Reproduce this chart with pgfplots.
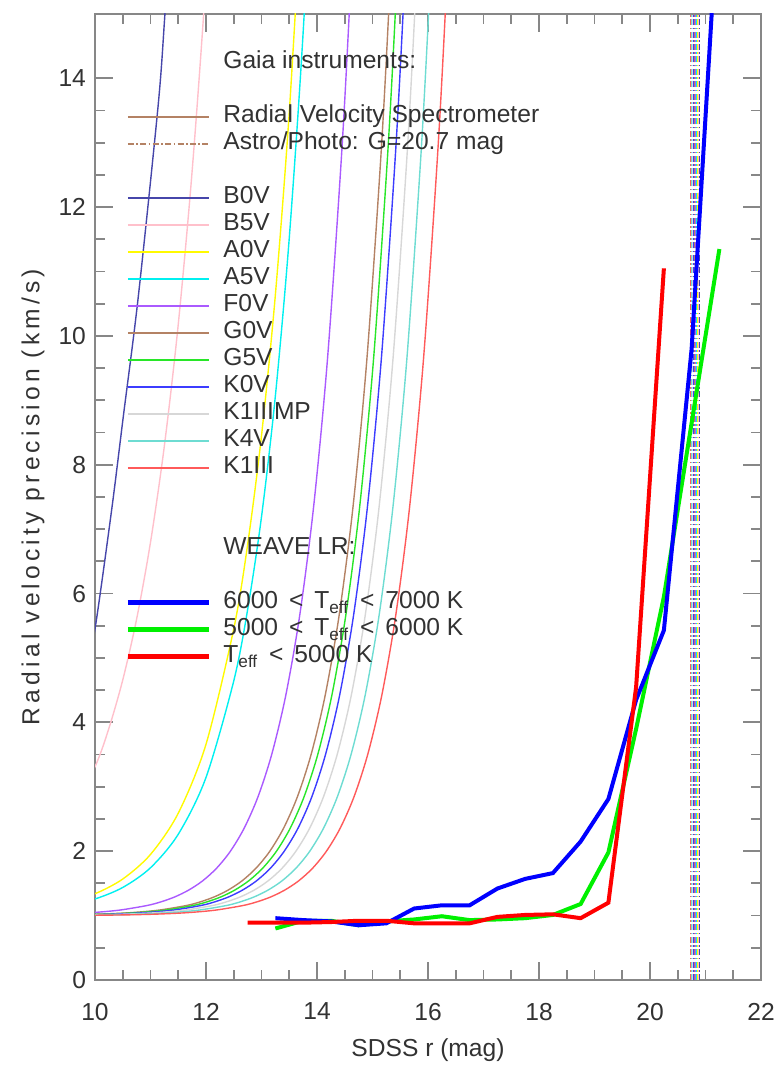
\documentclass[border=0pt]{standalone}
\usepackage{pgfplots}
\pgfplotsset{compat=1.18}
\usepackage{fontspec}
\setmainfont{Liberation Sans}
\newfontfamily\ylabfont[LetterSpace=17]{Liberation Sans}
\definecolor{cB0V}{RGB}{70,70,170}
\definecolor{cB5V}{RGB}{255,192,203}
\definecolor{cA0V}{RGB}{255,250,0}
\definecolor{cA5V}{RGB}{0,240,240}
\definecolor{cF0V}{RGB}{170,90,255}
\definecolor{cG0V}{RGB}{180,130,100}
\definecolor{cG5V}{RGB}{40,230,40}
\definecolor{cK0V}{RGB}{60,60,255}
\definecolor{cK1IIIMP}{RGB}{215,215,215}
\definecolor{cK4V}{RGB}{110,220,210}
\definecolor{cK1III}{RGB}{255,90,90}
\definecolor{wblue}{RGB}{0,0,255}
\definecolor{wgreen}{RGB}{0,240,0}
\definecolor{wred}{RGB}{255,0,0}
\definecolor{axgray}{RGB}{135,135,135}
\definecolor{txtgray}{RGB}{50,50,50}
\newcommand{\lfont}{\fontsize{12.3}{14}\selectfont}
\pgfplotsset{gaia/.style={line width=0.7pt, smooth, forget plot},
  weave/.style={line width=2pt, forget plot},
  ap/.style={line width=0.8pt, dash pattern=on 3pt off 1.2pt on 0.8pt off 1.2pt, forget plot}}
\begin{document}
\begin{tikzpicture}
\begin{axis}[
  at={(0,0)}, anchor=south west,
  scale only axis, width=333pt, height=483pt,
  xmin=10, xmax=22, ymin=0, ymax=15,
  xtick={10,12,...,22}, ytick={0,2,...,14},
  minor x tick num=3, minor y tick num=3,
  tick align=inside,
  major tick length=9pt, minor tick length=5pt,
  axis line style={draw=axgray, line width=0.9pt},
  every tick/.style={draw=axgray, line width=0.9pt},
  /pgf/number format/assume math mode=true,
  tick label style={font=\lfont, text=txtgray},
  xticklabel style={yshift=-8pt},
  yticklabel style={xshift=-1pt},
  xlabel={SDSS r (mag)},
  ylabel={Radial velocity precision (km/s)},
  xlabel style={font=\lfont, text=txtgray, at={(axis description cs:0.5,-0.0725)}, anchor=center},
  ylabel style={font=\ylabfont\lfont, text=txtgray, at={(axis description cs:-0.093,0.5)}, anchor=center},
  legend cell align=left,
  legend image code/.code={\draw[#1] (0pt,0pt) -- (40.5pt,0pt);},
  legend style={at={(axis description cs:0,1)}, anchor=north west,
    xshift=15pt, yshift=-18.25pt, draw=none, fill=none, inner sep=0pt,
    row sep=1.5pt, font=\lfont, text=txtgray,
    nodes={inner sep=0pt, text height=9pt, text depth=3pt},
    /tikz/every odd column/.append style={column sep=6pt}},
]
% ---- legend entries ----
\addlegendimage{empty legend}\addlegendentry{Gaia instruments:}
\addlegendimage{empty legend}\addlegendentry{}
\addlegendimage{cG0V, line width=0.9pt}\addlegendentry{Radial Velocity Spectrometer}
\addlegendimage{cG0V, line width=0.9pt, dash pattern=on 3pt off 1.2pt on 0.8pt off 1.2pt}\addlegendentry{Astro/Photo: G=20.7 mag}
\addlegendimage{empty legend}\addlegendentry{}
\addlegendimage{cB0V, line width=0.9pt}\addlegendentry{B0V}
\addlegendimage{cB5V, line width=0.9pt}\addlegendentry{B5V}
\addlegendimage{cA0V, line width=0.9pt}\addlegendentry{A0V}
\addlegendimage{cA5V, line width=0.9pt}\addlegendentry{A5V}
\addlegendimage{cF0V, line width=0.9pt}\addlegendentry{F0V}
\addlegendimage{cG0V, line width=0.9pt}\addlegendentry{G0V}
\addlegendimage{cG5V, line width=0.9pt}\addlegendentry{G5V}
\addlegendimage{cK0V, line width=0.9pt}\addlegendentry{K0V}
\addlegendimage{cK1IIIMP, line width=0.9pt}\addlegendentry{K1IIIMP}
\addlegendimage{cK4V, line width=0.9pt}\addlegendentry{K4V}
\addlegendimage{cK1III, line width=0.9pt}\addlegendentry{K1III}
\addlegendimage{empty legend}\addlegendentry{}
\addlegendimage{empty legend}\addlegendentry{}
\addlegendimage{empty legend}\addlegendentry{WEAVE LR:}
\addlegendimage{empty legend}\addlegendentry{}
\addlegendimage{wblue, line width=2.5pt}\addlegendentry{6000 \,<\, T\textsubscript{eff} \,<\, 7000 K}
\addlegendimage{wgreen, line width=2.5pt}\addlegendentry{5000 \,<\, T\textsubscript{eff} \,<\, 6000 K}
\addlegendimage{wred, line width=2.5pt}\addlegendentry{T\textsubscript{eff} \,<\, 5000 K}
% ---- Gaia RVS curves ----
\addplot[cB0V, gaia] coordinates {(9.8,4.6) (10,5.45) (10.30,7.3) (10.51,8.75) (10.78,10.61) (11.14,13.6) (11.26,15.0) (11.4,16.8)};
\addplot[cB5V, gaia] coordinates {(9.5,2.458) (10,3.31) (10.25,3.907) (10.5,4.659) (10.75,5.605) (11,6.796) (11.25,8.295) (11.5,10.18) (11.75,12.56) (12,15.55) (12.25,19.31)};
\addplot[cA0V, gaia] coordinates {(9.5,1.203) (10,1.339) (10.5,1.568) (11,1.950) (11.5,2.590) (12,3.660) (12.5,5.453) (12.75,6.760) (13,8.452) (13.25,10.641) (13.5,13.47) (13.75,17.14)};
\addplot[cA5V, gaia] coordinates {(9.5,1.152) (10,1.258) (10.5,1.437) (11,1.743) (11.5,2.263) (12,3.145) (12.5,4.644) (12.75,5.751) (13,7.192) (13.25,9.070) (13.5,11.52) (13.75,14.71) (14,18.87)};
\addplot[cF0V, gaia] coordinates {(9.44,1.025) (9.94,1.046) (10.44,1.085) (10.94,1.157) (11.19,1.214) (11.44,1.291) (11.69,1.397) (11.94,1.540) (12.19,1.735) (12.44,2.000) (12.69,2.361) (12.94,2.852) (13.19,3.521) (13.44,4.431) (13.69,5.670) (13.94,7.357) (14.19,9.653) (14.44,12.776) (14.59,15.17) (14.74,18.05)};
\addplot[cG0V, gaia] coordinates {(9.15,1.007) (9.65,1.013) (10.15,1.025) (10.65,1.046) (11.15,1.085) (11.65,1.157) (11.90,1.214) (12.15,1.291) (12.40,1.397) (12.65,1.540) (12.90,1.735) (13.15,2.000) (13.40,2.361) (13.65,2.852) (13.90,3.521) (14.15,4.431) (14.40,5.670) (14.65,7.357) (14.90,9.653) (15.15,12.776) (15.30,15.17) (15.45,18.05)};
\addplot[cG5V, gaia] coordinates {(9.27,1.007) (9.77,1.013) (10.27,1.025) (10.77,1.046) (11.27,1.085) (11.77,1.157) (12.02,1.214) (12.27,1.291) (12.52,1.397) (12.77,1.540) (13.02,1.735) (13.27,2.000) (13.52,2.361) (13.77,2.852) (14.02,3.521) (14.27,4.431) (14.52,5.670) (14.77,7.357) (15.02,9.653) (15.27,12.776) (15.42,15.17) (15.57,18.05)};
\addplot[cK0V, gaia] coordinates {(9.41,1.007) (9.91,1.013) (10.41,1.025) (10.91,1.046) (11.41,1.085) (11.91,1.157) (12.16,1.214) (12.41,1.291) (12.66,1.397) (12.91,1.540) (13.16,1.735) (13.41,2.000) (13.66,2.361) (13.91,2.852) (14.16,3.521) (14.41,4.431) (14.66,5.670) (14.91,7.357) (15.16,9.653) (15.41,12.776) (15.56,15.17) (15.71,18.05)};
\addplot[cK1IIIMP, gaia] coordinates {(9.62,1.007) (10.12,1.013) (10.62,1.025) (11.12,1.046) (11.62,1.085) (12.12,1.157) (12.37,1.214) (12.62,1.291) (12.87,1.397) (13.12,1.540) (13.37,1.735) (13.62,2.000) (13.87,2.361) (14.12,2.852) (14.37,3.521) (14.62,4.431) (14.87,5.670) (15.12,7.357) (15.37,9.653) (15.62,12.776) (15.77,15.17) (15.92,18.05)};
\addplot[cK4V, gaia] coordinates {(9.87,1.007) (10.37,1.013) (10.87,1.025) (11.37,1.046) (11.87,1.085) (12.37,1.157) (12.62,1.214) (12.87,1.291) (13.12,1.397) (13.37,1.540) (13.62,1.735) (13.87,2.000) (14.12,2.361) (14.37,2.852) (14.62,3.521) (14.87,4.431) (15.12,5.670) (15.37,7.357) (15.62,9.653) (15.87,12.776) (16.02,15.17) (16.17,18.05)};
\addplot[cK1III, gaia] coordinates {(9.67,1.004) (10.17,1.007) (10.67,1.013) (11.17,1.025) (11.67,1.046) (12.17,1.085) (12.67,1.157) (12.92,1.214) (13.17,1.291) (13.42,1.397) (13.67,1.540) (13.92,1.735) (14.17,2.000) (14.42,2.361) (14.67,2.852) (14.92,3.521) (15.17,4.431) (15.42,5.670) (15.67,7.357) (15.92,9.653) (16.17,12.776) (16.32,15.17) (16.47,18.05)};
% ---- Astro/Photo G=20.7 limits ----
\addplot[cK1III, ap] coordinates {(20.740,0) (20.740,15)};
\addplot[cK4V, ap] coordinates {(20.755,0) (20.755,15)};
\addplot[cK1IIIMP, ap] coordinates {(20.770,0) (20.770,15)};
\addplot[cK0V, ap] coordinates {(20.785,0) (20.785,15)};
\addplot[cG5V, ap] coordinates {(20.800,0) (20.800,15)};
\addplot[cG0V, ap] coordinates {(20.815,0) (20.815,15)};
\addplot[cF0V, ap] coordinates {(20.830,0) (20.830,15)};
\addplot[cA5V, ap] coordinates {(20.845,0) (20.845,15)};
\addplot[cA0V, ap] coordinates {(20.860,0) (20.860,15)};
\addplot[cB5V, ap] coordinates {(20.875,0) (20.875,15)};
\addplot[cB0V, ap] coordinates {(20.890,0) (20.890,15)};
% ---- WEAVE LR ----
\addplot[wgreen, weave] coordinates {(13.25,0.80) (13.75,0.92) (14.25,0.92) (14.75,0.85) (15.25,0.91) (15.75,0.94) (16.25,0.99) (16.75,0.93) (17.25,0.94) (17.75,0.96) (18.25,1.01) (18.75,1.18) (19.25,1.98) (19.75,3.90) (20.25,5.95) (20.75,8.65) (21.25,11.35)};
\addplot[wblue, weave] coordinates {(13.25,0.96) (13.75,0.93) (14.25,0.91) (14.75,0.85) (15.25,0.88) (15.75,1.11) (16.25,1.16) (16.75,1.16) (17.25,1.42) (17.75,1.57) (18.25,1.66) (18.75,2.15) (19.25,2.81) (19.75,4.35) (20.25,5.43) (20.75,9.80) (21.25,17.0)};
\addplot[wred, weave] coordinates {(12.75,0.89) (13.25,0.89) (13.75,0.89) (14.25,0.90) (14.75,0.92) (15.25,0.92) (15.75,0.88) (16.25,0.88) (16.75,0.88) (17.25,0.98) (17.75,1.01) (18.25,1.02) (18.75,0.96) (19.25,1.20) (19.75,4.55) (20.25,11.05)};
\end{axis}
\pgfresetboundingbox
\useasboundingbox (-47.5pt,-44pt) rectangle (339.5pt,490pt);
\end{tikzpicture}
\end{document}
